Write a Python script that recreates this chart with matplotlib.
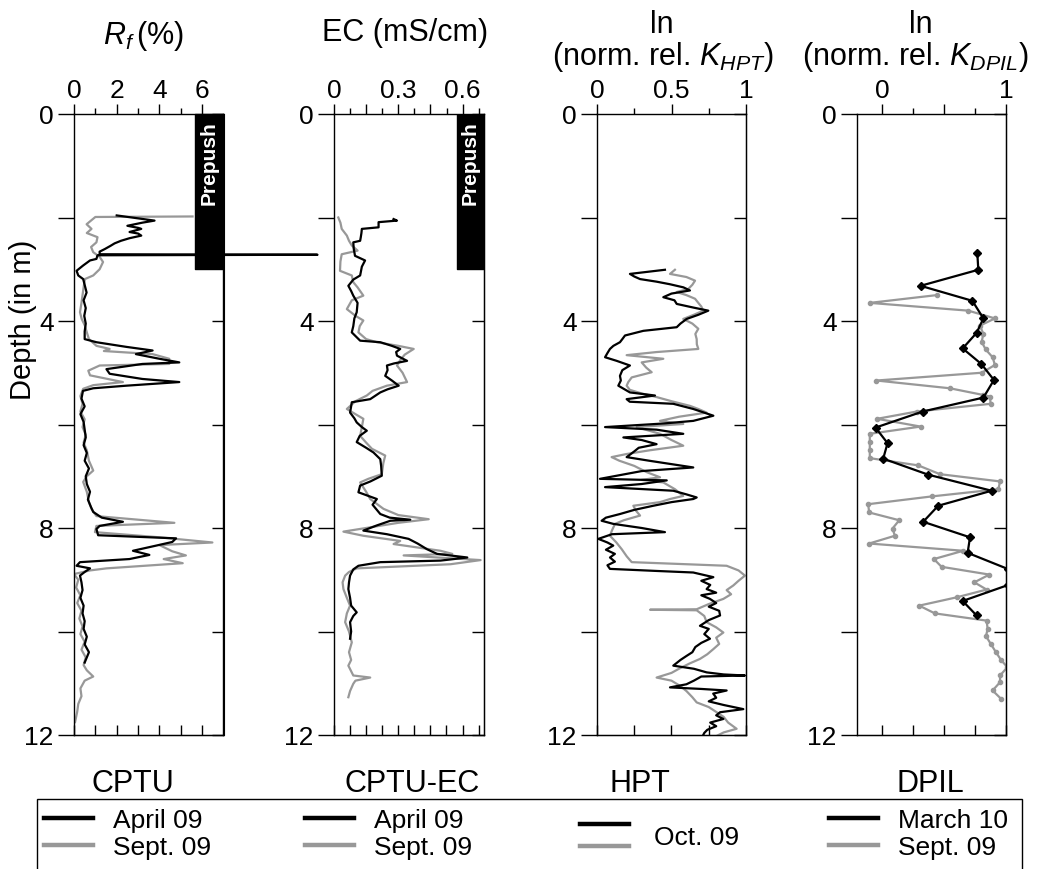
import matplotlib
matplotlib.use("Agg")
import matplotlib.pyplot as plt
from matplotlib.lines import Line2D
from matplotlib.patches import Rectangle

plt.rcParams['font.family'] = ['Liberation Sans', 'DejaVu Sans']
plt.rcParams['mathtext.fontset'] = 'custom'
plt.rcParams['mathtext.rm'] = 'Liberation Sans'
plt.rcParams['mathtext.it'] = 'Liberation Sans:italic'

BLACK = '#000000'
GRAY = '#989898'

# ---------------- data ----------------
# CPTU friction ratio Rf (%)
rf_apr_depth = [1.96, 2.06, 2.10, 2.16, 2.20, 2.22, 2.28, 2.31, 2.35, 2.40, 2.45, 2.50, 2.55, 2.61, 2.66, 2.71, 2.72, 2.73,
                2.80, 2.83, 2.93, 3.03, 3.12, 3.19, 3.32, 3.45, 3.60, 3.75, 3.90, 4.05, 4.20, 4.35, 4.41, 4.50, 4.57, 4.64,
                4.73, 4.80, 4.83, 4.93, 5.02, 5.12, 5.18, 5.25, 5.30, 5.35, 5.50, 5.65, 5.80, 5.95, 6.10, 6.25, 6.40, 6.55,
                6.70, 6.85, 7.00, 7.15, 7.30, 7.45, 7.60, 7.69, 7.80, 7.88, 7.96, 8.02, 8.14, 8.20, 8.27, 8.34, 8.44, 8.52,
                8.60, 8.66, 8.73, 8.78, 8.85, 8.92, 9.05, 9.20, 9.35, 9.50, 9.65, 9.80, 9.95, 10.10, 10.25, 10.40, 10.50, 10.60]
rf_apr = [2.0, 3.77, 3.2, 2.5, 3.0, 3.15, 2.6, 3.0, 3.15, 2.6, 2.2, 1.9, 1.7, 1.44, 1.2, 1.2, 11.4, 1.1,
          1.05, 0.75, 0.42, 0.12, 0.2, 0.43, 0.51, 0.59, 0.45, 0.55, 0.48, 0.55, 0.5, 0.5, 1.05, 2.45, 3.68, 2.9,
          4.0, 4.93, 3.2, 1.52, 1.67, 3.2, 4.93, 2.45, 0.9, 0.42, 0.35, 0.5, 0.3, 0.45, 0.5, 0.55, 0.45, 0.6,
          0.5, 0.7, 0.55, 0.6, 0.75, 0.65, 0.8, 0.9, 1.3, 2.29, 1.2, 1.05, 1.13, 4.78, 4.6, 3.85, 2.76, 3.53,
          2.6, 0.28, 0.12, 0.75, 0.5, 0.28, 0.35, 0.4, 0.3, 0.45, 0.4, 0.5, 0.45, 0.6, 0.5, 0.7, 0.6, 0.5]

rf_sep_depth = [1.98, 1.99, 2.13, 2.22, 2.30, 2.38, 2.48, 2.57, 2.67, 2.76, 2.86, 3.00, 3.12, 3.19, 3.35, 3.50, 3.65, 3.83,
                3.96, 4.09, 4.22, 4.35, 4.48, 4.54, 4.58, 4.64, 4.73, 4.83, 4.86, 4.96, 5.05, 5.18, 5.24, 5.31, 5.45, 5.60,
                5.75, 5.90, 6.05, 6.20, 6.35, 6.50, 6.70, 6.89, 7.00, 7.11, 7.30, 7.50, 7.63, 7.77, 7.90, 7.96, 8.08, 8.18,
                8.28, 8.33, 8.45, 8.53, 8.60, 8.68, 8.78, 8.82, 8.89, 9.00, 9.15, 9.30, 9.45, 9.60, 9.75, 9.90, 10.05, 10.20,
                10.35, 10.50, 10.65, 10.75, 10.87, 10.95, 11.10, 11.25, 11.40, 11.55, 11.75]
rf_sep = [5.55, 1.0, 0.59, 0.82, 0.6, 1.1, 1.05, 0.8, 0.9, 1.2, 1.36, 1.2, 0.9, 0.51, 0.45, 0.4, 0.35, 0.28,
          0.36, 0.51, 0.6, 0.7, 1.05, 1.67, 1.4, 3.68, 4.46, 4.46, 1.2, 0.67, 0.75, 2.29, 0.9, 0.43, 0.3, 0.4,
          0.3, 0.5, 0.4, 0.55, 0.45, 0.6, 0.7, 0.9, 0.6, 0.43, 0.6, 0.7, 0.82, 1.05, 4.7, 1.05, 0.98, 4.0,
          6.48, 4.0, 4.6, 5.24, 4.2, 5.09, 1.52, 0.75, 0.0, 0.2, 0.1, 0.3, 0.15, 0.35, 0.25, 0.4, 0.3, 0.5,
          0.35, 0.55, 0.45, 0.6, 0.9, 0.5, 0.3, 0.35, 0.2, 0.15, 0.05]

# CPTU-EC electrical conductivity (mS/cm)
ec_apr_depth = [2.03, 2.06, 2.09, 2.19, 2.22, 2.30, 2.38, 2.45, 2.48, 2.60, 2.74, 2.83, 2.95, 3.12, 3.20, 3.32, 3.42, 3.51,
                3.65, 3.83, 3.95, 4.10, 4.22, 4.38, 4.41, 4.48, 4.54, 4.60, 4.67, 4.77, 4.82, 4.86, 4.95, 5.06, 5.15, 5.25,
                5.32, 5.38, 5.51, 5.57, 5.65, 5.77, 5.88, 5.96, 6.05, 6.12, 6.22, 6.34, 6.45, 6.54, 6.67, 6.80, 6.99, 7.10,
                7.18, 7.31, 7.44, 7.55, 7.65, 7.73, 7.80, 7.84, 7.86, 7.95, 8.05, 8.12, 8.21, 8.30, 8.41, 8.50, 8.57, 8.63,
                8.66, 8.73, 8.80, 8.92, 9.05, 9.18, 9.35, 9.50, 9.63, 9.70, 9.82, 10.00, 10.14]
ec_apr = [0.278, 0.294, 0.208, 0.208, 0.13, 0.128, 0.125, 0.122, 0.09, 0.092, 0.098, 0.145, 0.13, 0.122, 0.09, 0.067, 0.08, 0.09,
          0.11, 0.106, 0.095, 0.09, 0.083, 0.122, 0.216, 0.27, 0.309, 0.29, 0.294, 0.341, 0.28, 0.247, 0.25, 0.239, 0.27, 0.302,
          0.25, 0.216, 0.169, 0.083, 0.08, 0.075, 0.095, 0.106, 0.13, 0.153, 0.12, 0.106, 0.15, 0.184, 0.216, 0.22, 0.223, 0.17,
          0.122, 0.114, 0.2, 0.18, 0.2, 0.216, 0.26, 0.356, 0.263, 0.2, 0.137, 0.247, 0.348, 0.39, 0.434, 0.481, 0.622, 0.497,
          0.216, 0.114, 0.09, 0.075, 0.07, 0.067, 0.075, 0.08, 0.106, 0.09, 0.075, 0.08, 0.075]

ec_sep_depth = [2.00, 2.10, 2.22, 2.35, 2.45, 2.54, 2.64, 2.71, 2.85, 3.03, 3.12, 3.25, 3.35, 3.51, 3.60, 3.77, 3.90, 3.99,
                4.10, 4.22, 4.35, 4.41, 4.48, 4.54, 4.65, 4.75, 4.86, 5.00, 5.18, 5.25, 5.35, 5.44, 5.55, 5.70, 5.80, 5.89,
                6.05, 6.22, 6.35, 6.47, 6.60, 6.75, 6.96, 7.05, 7.12, 7.30, 7.44, 7.63, 7.75, 7.83, 7.90, 8.07, 8.15, 8.25,
                8.31, 8.44, 8.50, 8.53, 8.62, 8.70, 8.78, 8.85, 8.92, 9.05, 9.18, 9.35, 9.50, 9.65, 9.82, 10.00, 10.21, 10.40,
                10.55, 10.66, 10.85, 10.89, 10.95, 11.01, 11.15, 11.27]
ec_sep = [0.02, 0.03, 0.036, 0.06, 0.07, 0.083, 0.11, 0.036, 0.03, 0.028, 0.083, 0.09, 0.11, 0.137, 0.083, 0.06, 0.1, 0.137,
          0.12, 0.114, 0.15, 0.2, 0.3, 0.372, 0.33, 0.31, 0.294, 0.32, 0.341, 0.247, 0.18, 0.153, 0.1, 0.06, 0.1, 0.137,
          0.13, 0.122, 0.15, 0.177, 0.239, 0.23, 0.223, 0.16, 0.122, 0.15, 0.169, 0.231, 0.3, 0.442, 0.3, 0.044, 0.137, 0.309,
          0.278, 0.497, 0.552, 0.325, 0.684, 0.544, 0.106, 0.07, 0.052, 0.04, 0.044, 0.06, 0.075, 0.06, 0.052, 0.07, 0.083, 0.07,
          0.08, 0.067, 0.09, 0.169, 0.1, 0.09, 0.075, 0.067]

# HPT  ln(norm. rel. K_HPT)
hpt_oct_a_depth = [3.01, 3.09, 3.14, 3.19, 3.24, 3.29, 3.35, 3.41, 3.47, 3.54, 3.60, 3.67, 3.74, 3.80, 3.88, 3.96, 4.05, 4.12,
                   4.19, 4.28, 4.35, 4.41, 4.48, 4.54, 4.62, 4.70, 4.77, 4.86, 4.95, 5.06, 5.15, 5.25, 5.38, 5.44, 5.51, 5.56,
                   5.60, 5.70, 5.83, 5.93, 5.98, 6.05, 6.10, 6.18, 6.25, 6.30, 6.38, 6.45, 6.52, 6.63, 6.70, 6.83, 6.90, 7.05,
                   7.08, 7.15, 7.21, 7.28, 7.35, 7.41, 7.44, 7.50, 7.57, 7.65, 7.73, 7.80, 7.86, 7.92, 8.00, 8.08, 8.12, 8.21,
                   8.28, 8.34, 8.42, 8.50, 8.57, 8.65, 8.72, 8.79, 8.83, 8.86, 8.95, 9.02, 9.10, 9.18, 9.25, 9.30, 9.37, 9.45,
                   9.52, 9.60, 9.69, 9.78, 9.89, 9.95, 10.05, 10.14, 10.22, 10.30, 10.40, 10.47, 10.55, 10.66, 10.72, 10.79,
                   10.83, 10.85, 10.87, 10.95, 11.02, 11.08, 11.11, 11.14, 11.20, 11.28, 11.35, 11.42, 11.50, 11.56, 11.62,
                   11.69, 11.76, 11.83, 11.90, 11.96, 12.00]
hpt_oct_a = [0.456, 0.221, 0.25, 0.289, 0.4, 0.49, 0.58, 0.624, 0.5, 0.445, 0.52, 0.535, 0.646, 0.747, 0.68, 0.602, 0.56, 0.535,
             0.311, 0.188, 0.17, 0.154, 0.11, 0.087, 0.07, 0.054, 0.132, 0.221, 0.17, 0.154, 0.16, 0.143, 0.221, 0.389, 0.199, 0.22,
             0.512, 0.646, 0.781, 0.646, 0.45, 0.054, 0.4, 0.579, 0.177, 0.3, 0.4, 0.28, 0.25, 0.199, 0.35, 0.646, 0.3, 0.02,
             0.468, 0.3, 0.054, 0.512, 0.6, 0.669, 0.646, 0.5, 0.378, 0.25, 0.154, 0.06, 0.031, 0.109, 0.3, 0.456, 0.1, 0.009,
             0.07, 0.109, 0.06, 0.12, 0.087, 0.12, 0.07, 0.087, 0.4, 0.646, 0.781, 0.7, 0.76, 0.736, 0.8, 0.7, 0.758, 0.8,
             0.75, 0.82, 0.826, 0.75, 0.691, 0.75, 0.72, 0.758, 0.7, 0.66, 0.64, 0.602, 0.56, 0.512, 0.65, 0.736,
             0.85, 0.993, 0.7, 0.65, 0.6, 0.49, 0.7, 0.87, 0.78, 0.8, 0.75, 0.85, 0.982, 0.826, 0.8,
             0.848, 0.76, 0.8, 0.74, 0.72, 0.713]

hpt_oct_b_depth = [3.01, 3.09, 3.15, 3.22, 3.30, 3.38, 3.44, 3.50, 3.57, 3.65, 3.72, 3.80, 3.88, 3.96, 4.05, 4.15, 4.25, 4.35,
                   4.45, 4.54, 4.60, 4.66, 4.73, 4.80, 4.90, 4.99, 5.09, 5.18, 5.25, 5.33, 5.40, 5.47, 5.55, 5.64, 5.70, 5.77,
                   5.85, 5.93, 5.99, 6.05, 6.12, 6.18, 6.30, 6.41, 6.50, 6.57, 6.63, 6.70, 6.80, 6.92, 7.02, 7.07, 7.12, 7.25,
                   7.38, 7.44, 7.50, 7.57, 7.66, 7.76, 7.85, 7.92, 8.05, 8.15, 8.28, 8.41, 8.55, 8.66, 8.70, 8.73, 8.82, 8.92,
                   9.02, 9.11, 9.20, 9.28, 9.37, 9.47, 9.57, 9.58, 9.59, 9.70, 9.82, 9.92, 10.02, 10.12, 10.24, 10.34, 10.44,
                   10.53, 10.62, 10.72, 10.80, 10.89, 10.95, 11.05, 11.15, 11.27, 11.37, 11.46, 11.56, 11.65, 11.76, 11.88,
                   11.95, 12.05]
hpt_oct_b = [0.523, 0.49, 0.6, 0.658, 0.64, 0.613, 0.535, 0.6, 0.658, 0.68, 0.7, 0.713, 0.65, 0.579, 0.64, 0.68, 0.66, 0.669,
             0.67, 0.68, 0.4, 0.199, 0.445, 0.3, 0.33, 0.367, 0.233, 0.21, 0.199, 0.22, 0.3, 0.4, 0.5, 0.624, 0.68, 0.736,
             0.55, 0.423, 0.579, 0.266, 0.35, 0.423, 0.5, 0.579, 0.35, 0.199, 0.098, 0.15, 0.25, 0.333, 0.423, 0.3, 0.445, 0.523,
             0.579, 0.49, 0.423, 0.244, 0.26, 0.289, 0.18, 0.121, 0.1, 0.087, 0.13, 0.166, 0.2, 0.233, 0.6, 0.87, 0.95, 0.993,
             0.95, 0.915, 0.87, 0.9, 0.848, 0.75, 0.669, 0.356, 0.669, 0.72, 0.736, 0.8, 0.848, 0.8, 0.82, 0.781, 0.74,
             0.691, 0.62, 0.55, 0.5, 0.4, 0.5, 0.557, 0.6, 0.64, 0.669, 0.75, 0.803, 0.85, 0.88, 0.937,
             0.85, 0.781]

# DPIL  ln(norm. rel. K_DPIL)
dpil_mar_depth = [2.69, 3.01, 3.32, 3.61, 3.95, 4.23, 4.53, 4.83, 5.14, 5.48, 5.75, 6.06, 6.36, 6.66, 6.97, 7.28,
                  7.57, 7.88, 8.18, 8.48, 8.79, 9.10, 9.41, 9.69]
dpil_mar = [0.769, 0.777, 0.312, 0.729, 0.818, 0.763, 0.651, 0.801, 0.903, 0.818, 0.328, -0.051, 0.046, 0.011, 0.374, 0.884,
            0.454, 0.333, 0.71, 0.691, 1.013, 1.019, 0.651, 0.763]

dpil_sep_depth = [3.50, 3.65, 3.80, 3.95, 4.09, 4.25, 4.40, 4.55, 4.70, 4.85, 5.00, 5.15, 5.30, 5.43, 5.46, 5.60, 5.75, 5.89,
                  6.04, 6.18, 6.34, 6.50, 6.65, 6.79, 6.96, 7.10, 7.25, 7.39, 7.54, 7.70, 7.85, 8.01, 8.15, 8.30, 8.44, 8.60,
                  8.75, 8.90, 9.05, 9.19, 9.34, 9.50, 9.65, 9.79, 9.95, 10.09, 10.25, 10.40, 10.55, 10.69, 10.85, 10.98,
                  11.14, 11.30]
dpil_sep = [0.441, -0.097, 0.696, 0.911, 0.79, 0.818, 0.804, 0.836, 0.892, 0.911, 0.804, -0.043, 0.548, 0.818, 0.871, 0.876,
            0.28, -0.038, 0.312, -0.097, -0.097, -0.097, -0.097, 0.293, 0.468, 0.952, 0.939, 0.401, -0.11, -0.102, 0.14,
            0.086, 0.105, -0.102, 0.656, 0.419, 0.481, 0.866, 0.745, 0.844, 0.602, 0.301, 0.427, 0.844, 0.852, 0.839,
            0.88, 0.919, 0.96, 1.011, 0.952, 0.952, 0.892, 0.96]

prepush_depth = 3.0

# ---------------- figure ----------------
W, H = 1044, 870
fig = plt.figure(figsize=(W / 100, H / 100), dpi=100)


def fx(px):
    return px / W


def fy(py):
    return 1 - py / H


top_px, bot_px = 115, 736
panels_px = [(74, 223.5), (334, 484), (597, 746), (857, 1006)]
axes = []
for l, r in panels_px:
    ax = fig.add_axes([fx(l), fy(bot_px), fx(r - l), (bot_px - top_px) / H])
    axes.append(ax)

xcfg = [
    dict(lim=(0, 7), major=[0, 2, 4, 6], labels=['0', '2', '4', '6'], minor=[1, 3, 5], bottom=[0, 1, 2, 3, 4, 5, 6]),
    dict(lim=(0, 0.7), major=[0, 0.15, 0.3, 0.45, 0.6], labels=['0', '', '0.3', '', '0.6'],
         minor=[0.075, 0.225, 0.375, 0.525, 0.675], bottom=[0.075 * i for i in range(10)]),
    dict(lim=(0, 1), major=[0, 0.5, 1], labels=['0', '0.5', '1'], minor=[0.25, 0.75], bottom=[0, 0.25, 0.5, 0.75, 1]),
    dict(lim=(-0.2, 1), major=[0, 0.5, 1], labels=['0', '', '1'], minor=[0.25, 0.75], bottom=[0, 0.25, 0.5, 0.75, 1]),
]

TICKFS = 19
for ax, cfg in zip(axes, xcfg):
    ax.set_xlim(*cfg['lim'])
    ax.set_ylim(12, 0)
    ax.xaxis.tick_top()
    ax.set_xticks(cfg['major'])
    ax.set_xticklabels(cfg['labels'])
    ax.set_xticks(cfg['minor'], minor=True)
    ax.tick_params(axis='x', which='major', direction='out', length=7, width=1, pad=2, labelsize=TICKFS)
    ax.tick_params(axis='x', which='minor', direction='out', length=4, width=1)
    ax.yaxis.tick_left()
    ax.set_yticks([0, 2, 4, 6, 8, 10, 12])
    ax.set_yticklabels(['0', '', '4', '', '8', '', '12'])
    ax.tick_params(axis='y', direction='out', length=11.5, width=1, pad=3, labelsize=TICKFS)
    for s in ax.spines.values():
        s.set_linewidth(1)
    sb = ax.secondary_xaxis('bottom')
    sb.set_xticks(cfg['bottom'])
    sb.tick_params(direction='in', length=7, width=1, labelbottom=False)
    sr = ax.secondary_yaxis('right')
    sr.set_yticks([0, 2, 4, 6, 8, 10, 12])
    sr.tick_params(direction='in', length=9, width=1, labelright=False)

lw = 1.6
# CPTU
a = axes[0]
a.plot(rf_sep, rf_sep_depth, color=GRAY, lw=lw, zorder=2)
a.plot(rf_apr, rf_apr_depth, color=BLACK, lw=lw, zorder=3, clip_on=False)
a.fill_betweenx([0, prepush_depth], 5.68, 7, color='black', zorder=4, clip_on=False)
a.text(6.34, 0.93, 'Prepush', rotation=90, color='white', fontsize=15, fontweight='bold',
       ha='center', va='center', zorder=5)

# CPTU-EC
a = axes[1]
a.plot(ec_sep, ec_sep_depth, color=GRAY, lw=lw, zorder=2)
a.plot(ec_apr, ec_apr_depth, color=BLACK, lw=lw, zorder=3)
a.fill_betweenx([0, prepush_depth], 0.572, 0.7, color='black', zorder=4)
a.text(0.636, 0.93, 'Prepush', rotation=90, color='white', fontsize=15, fontweight='bold',
       ha='center', va='center', zorder=5)

# HPT
a = axes[2]
a.plot(hpt_oct_b, hpt_oct_b_depth, color=GRAY, lw=lw, zorder=2)
a.plot(hpt_oct_a, hpt_oct_a_depth, color=BLACK, lw=lw, zorder=3)

# DPIL
a = axes[3]
a.plot(dpil_sep, dpil_sep_depth, color=GRAY, lw=lw, marker='o', ms=3, zorder=2)
a.plot(dpil_mar, dpil_mar_depth, color=BLACK, lw=lw, marker='D', ms=4.5, zorder=3)

# titles
TFS = 22
fig.text(fx(143), fy(36), r'$R_f\,$(%)', ha='center', va='center', fontsize=TFS)
fig.text(fx(405), fy(33), 'EC (mS/cm)', ha='center', va='center', fontsize=TFS)
fig.text(fx(662), fy(25), 'ln', ha='center', va='center', fontsize=TFS)
fig.text(fx(663), fy(57), r'(norm. rel. $K_{HPT}$)', ha='center', va='center', fontsize=TFS)
fig.text(fx(921), fy(25), 'ln', ha='center', va='center', fontsize=TFS)
fig.text(fx(915), fy(57), r'(norm. rel. $K_{DPIL}$)', ha='center', va='center', fontsize=TFS)

fig.text(fx(23), fy(320), 'Depth (in m)', rotation=90, ha='center', va='center', fontsize=21)

# bottom panel names
for name, xc in [('CPTU', 133), ('CPTU-EC', 412), ('HPT', 640), ('DPIL', 930)]:
    fig.text(fx(xc), fy(784), name, ha='center', va='center', fontsize=TFS)

# legend frame
fig.add_artist(Rectangle((fx(37), -0.05), fx(1022 - 37), fy(800) + 0.05, transform=fig.transFigure,
                         fill=False, edgecolor='black', lw=1))

LFS = 19
legend_entries = [
    (44, 821, BLACK, 'April 09'), (44, 848, GRAY, 'Sept. 09'),
    (305, 821, BLACK, 'April 09'), (305, 848, GRAY, 'Sept. 09'),
    (580, 827, BLACK, ' '), (580, 849, GRAY, ' '),
    (829, 821, BLACK, 'March 10'), (829, 848, GRAY, 'Sept. 09'),
]
for xpx, ypx, col, lab in legend_entries:
    h = Line2D([], [], color=col, lw=3.2)
    fig.legend([h], [lab], loc='center left', bbox_to_anchor=(fx(xpx), fy(ypx)),
               frameon=False, fontsize=LFS, handlelength=1.85, handletextpad=0.75,
               borderpad=0, borderaxespad=0)
fig.text(fx(654), fy(838), 'Oct. 09', ha='left', va='center', fontsize=LFS)

fig.savefig('out.png', dpi=100)
